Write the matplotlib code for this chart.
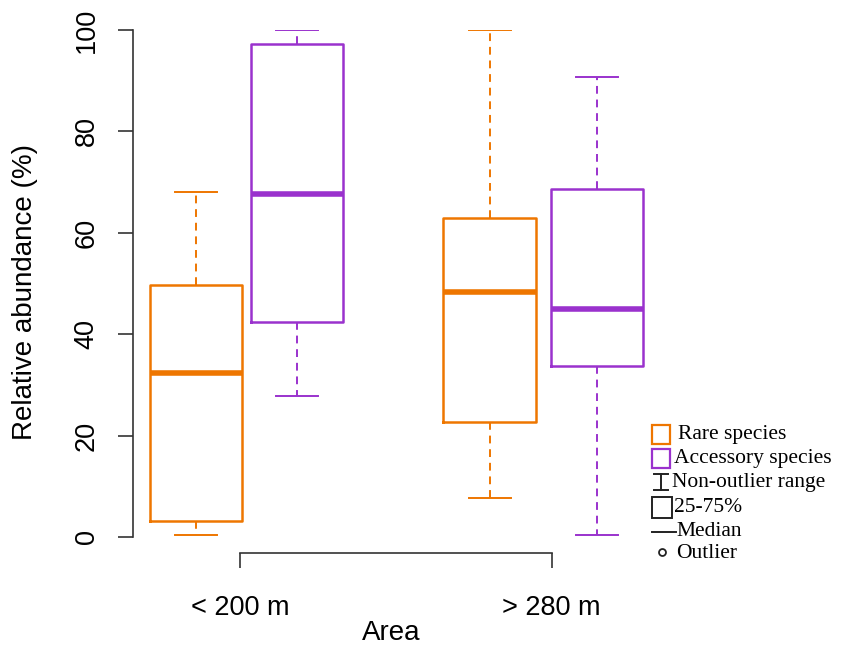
import matplotlib.pyplot as plt
from matplotlib.patches import Rectangle
from matplotlib.lines import Line2D

groups = ['< 200 m', '> 280 m']
rare_lo = [0.4, 7.7]
rare_q1 = [3.2, 22.7]
rare_med = [32.3, 48.3]
rare_q3 = [49.8, 63.0]
rare_hi = [68.0, 100.0]
acc_lo = [27.8, 0.4]
acc_q1 = [42.5, 33.7]
acc_med = [67.6, 45.0]
acc_q3 = [97.2, 68.6]
acc_hi = [100.0, 90.8]

orange = '#EE7600'
purple = '#9A32CD'

def stats(lo, q1, med, q3, hi):
    return [dict(whislo=a, q1=b, med=c, q3=d, whishi=e, fliers=[])
            for a, b, c, d, e in zip(lo, q1, med, q3, hi)]

W, H = 841, 649
fig = plt.figure(figsize=(W / 100, H / 100), dpi=100)
ax = fig.add_axes([133 / W, 1 - 553 / H, (650 - 133) / W, (553 - 30) / H])

for st, pos, col in [(stats(rare_lo, rare_q1, rare_med, rare_q3, rare_hi), [1, 3.91], orange),
                     (stats(acc_lo, acc_q1, acc_med, acc_q3, acc_hi), [2, 4.97], purple)]:
    ax.bxp(st, positions=pos, widths=0.92, capwidths=0.41, showfliers=False,
           boxprops=dict(color=col, lw=1.8),
           whiskerprops=dict(color=col, lw=1.4, ls=(0, (4, 3))),
           capprops=dict(color=col, lw=1.4),
           medianprops=dict(color=col, lw=4, solid_capstyle='butt'))

ax.set_xlim(0.376, 5.495)
ax.set_ylim(-3.16, 100)
for s in ['top', 'right']:
    ax.spines[s].set_visible(False)
ax.spines['left'].set_bounds(0, 100)
ax.spines['bottom'].set_bounds(1.44, 4.52)
for s in ['left', 'bottom']:
    ax.spines[s].set_linewidth(1.2)
    ax.spines[s].set_color('#333333')
ax.set_yticks([0, 20, 40, 60, 80, 100])
ax.set_xticks([1.44, 4.52])
ax.set_xticklabels(groups)
ax.tick_params(axis='both', length=11, width=1.2, color='#333333', labelsize=19.5)
ax.tick_params(axis='y', pad=13)
ax.tick_params(axis='x', pad=19)
for t in ax.get_yticklabels():
    t.set_rotation(90)
    t.set_va('center')
for t in ax.get_xticklabels() + ax.get_yticklabels():
    t.set_family('Liberation Sans')
ax.set_ylabel('Relative abundance (%)', fontsize=20, family='Liberation Sans', va='center')
ax.set_xlabel('Area', fontsize=20, family='Liberation Sans', va='center')
ax.yaxis.set_label_coords((25 - 133) / 517, 0.5)
ax.xaxis.set_label_coords(0.5, (553 - 633) / 523)

# legend drawn in pixel coordinates
def px(x, y):
    return x / W, 1 - y / H

def rect(x0, y0, x1, y1, col, lw):
    fig.add_artist(Rectangle(px(x0, y1), (x1 - x0) / W, (y1 - y0) / H,
                             fill=False, edgecolor=col, lw=lw, transform=fig.transFigure))

def line(xs, ys, lw=1.4):
    fig.add_artist(Line2D([x / W for x in xs], [1 - y / H for y in ys],
                          color='#222222', lw=lw, transform=fig.transFigure))

rect(652, 425, 670, 444, orange, 1.6)
rect(652, 449, 670, 468, purple, 1.6)
line([661, 661], [474, 490])
line([654, 668], [474, 474])
line([654, 668], [490, 490])
rect(652, 497, 672, 518, '#222222', 1.4)
line([652, 676], [532, 532])
fig.add_artist(Line2D([662 / W], [1 - 552 / H], marker='o', ms=5, mfc='none',
                      mec='#222222', mew=1.3, transform=fig.transFigure))
labels = ['Rare species', 'Accessory species', 'Non-outlier range', '25-75%', 'Median', 'Outlier']
ys = [435, 458, 482, 507, 531, 553]
xs = [678, 674, 672, 674, 676, 676]
for lab, x, y in zip(labels, xs, ys):
    fig.text(*px(x, y), lab, fontsize=15.5, family='Liberation Serif', va='center', ha='left')

fig.savefig('out.png', dpi=100)
